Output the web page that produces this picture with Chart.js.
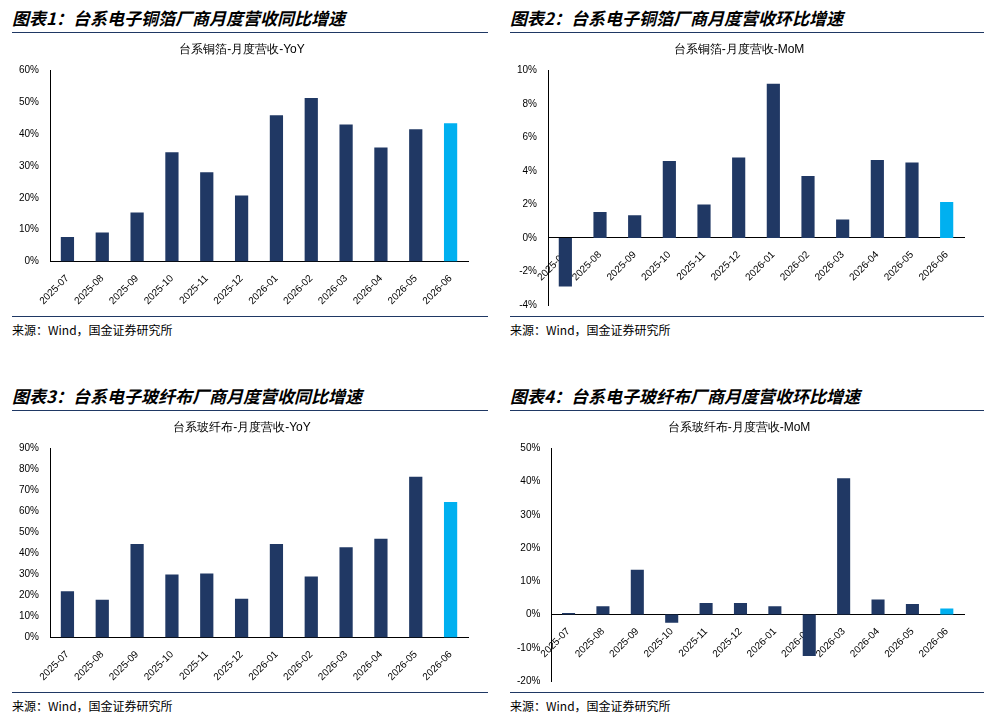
<!DOCTYPE html>
<html><head><meta charset="utf-8">
<script src="https://cdn.jsdelivr.net/npm/chart.js@4"></script>
<style>
body{margin:0;width:984px;height:726px;background:#fff;position:relative;font-family:"Noto Sans CJK SC",sans-serif;overflow:hidden}
.hd{position:absolute;font-weight:bold;font-style:italic;font-size:17px;color:#000;border-bottom:1.5px solid #1f3864;height:28px;line-height:28px}
.src{position:absolute;font-size:12px;border-top:1.5px solid #1f3864;padding-top:4px;height:20px}
.box{position:absolute}
</style></head><body>
<div class="hd" style="left:12px;top:4px;width:476px">图表1：台系电子铜箔厂商月度营收同比增速</div>
<div class="hd" style="left:510px;top:4px;width:474px">图表2：台系电子铜箔厂商月度营收环比增速</div>
<div class="box" style="left:12px;top:36px;width:476px;height:278px"><canvas id="c1"></canvas></div>
<div class="box" style="left:510px;top:36px;width:474px;height:278px"><canvas id="c2"></canvas></div>
<div class="src" style="left:12px;top:316px;width:476px">来源：Wind，国金证券研究所</div>
<div class="src" style="left:510px;top:316px;width:474px">来源：Wind，国金证券研究所</div>
<div class="hd" style="left:12px;top:382px;width:476px">图表3：台系电子玻纤布厂商月度营收同比增速</div>
<div class="hd" style="left:510px;top:382px;width:474px">图表4：台系电子玻纤布厂商月度营收环比增速</div>
<div class="box" style="left:12px;top:414px;width:476px;height:276px"><canvas id="c3"></canvas></div>
<div class="box" style="left:510px;top:414px;width:474px;height:276px"><canvas id="c4"></canvas></div>
<div class="src" style="left:12px;top:692px;width:476px">来源：Wind，国金证券研究所</div>
<div class="src" style="left:510px;top:692px;width:474px">来源：Wind，国金证券研究所</div>
<script>
const months = ['2025-07','2025-08','2025-09','2025-10','2025-11','2025-12','2026-01','2026-02','2026-03','2026-04','2026-05','2026-06'];
const foilYoY = [7.7, 9.1, 15.4, 34.3, 28.0, 20.7, 45.9, 51.3, 43.0, 35.8, 41.5, 43.4];
const foilMoM = [-2.9, 1.55, 1.35, 4.6, 2.0, 4.8, 9.2, 3.7, 1.1, 4.65, 4.5, 2.15];
const fiberYoY = [22, 18, 44.5, 30, 30.5, 18.5, 44.5, 29, 43, 47, 76.5, 64.5];
const fiberMoM = [0.5, 2.5, 13.5, -2.5, 3.5, 3.5, 2.5, -12.5, 41, 4.5, 3.2, 1.8];

const navy = '#203864', cyan = '#00b0f0';
const colors = months.map((m, i) => i === months.length - 1 ? cyan : navy);

function makeChart(id, title, data, min, max, step) {
  new Chart(document.getElementById(id), {
    type: 'bar',
    data: { labels: months, datasets: [{ data: data, backgroundColor: colors, barPercentage: 0.38, categoryPercentage: 1 }] },
    options: {
      responsive: true, maintainAspectRatio: false, animation: false,
      layout: { padding: { left: 4, right: 20, top: 0, bottom: 4 } },
      plugins: {
        legend: { display: false },
        title: { display: true, text: title, color: '#000', font: { size: 12, weight: 'normal' }, padding: { top: 6, bottom: 14 } }
      },
      scales: {
        x: {
          position: min < 0 ? { y: 0 } : 'bottom',
          grid: { display: false, drawTicks: true }, border: { color: '#000' },
          ticks: { color: '#000', font: { size: 10 }, minRotation: 45, maxRotation: 45 }
        },
        y: {
          min: min, max: max, grid: { display: false }, border: { color: '#000' },
          ticks: { stepSize: step, color: '#000', font: { size: 10 }, callback: v => v + '%' }
        }
      }
    }
  });
}
makeChart('c1', '台系铜箔-月度营收-YoY', foilYoY, 0, 60, 10);
makeChart('c2', '台系铜箔-月度营收-MoM', foilMoM, -4, 10, 2);
makeChart('c3', '台系玻纤布-月度营收-YoY', fiberYoY, 0, 90, 10);
makeChart('c4', '台系玻纤布-月度营收-MoM', fiberMoM, -20, 50, 10);
</script>
</body></html>
